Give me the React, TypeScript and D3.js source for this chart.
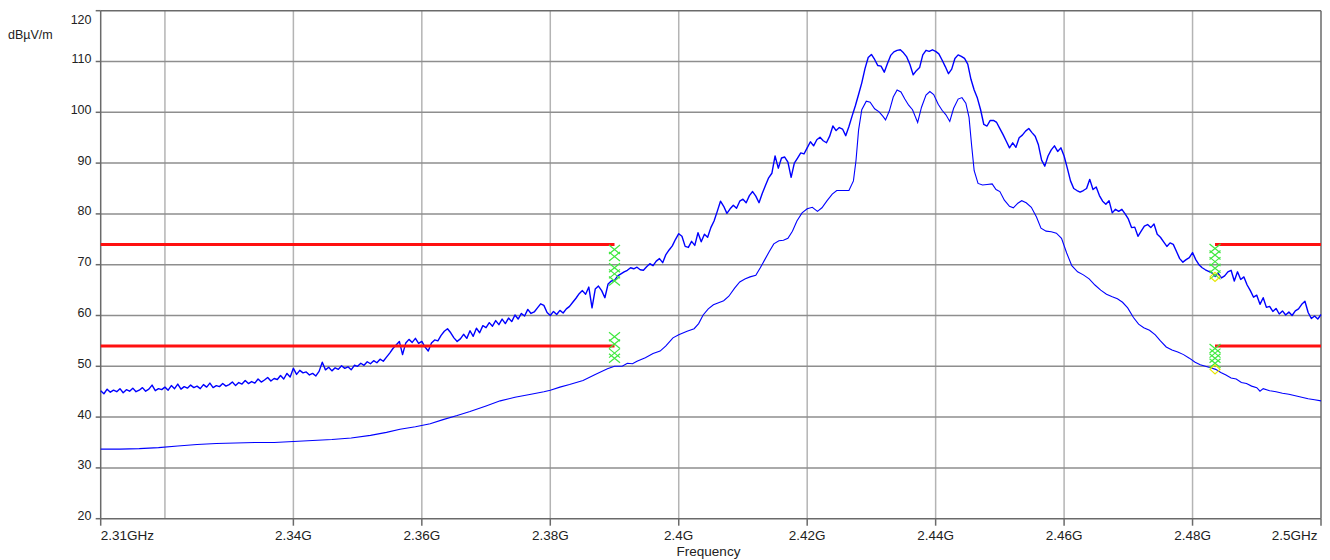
import React from "react";
import * as d3 from "d3";

// Sweep settings for the peak-detector trace (uniform frequency grid, GHz)
const SWEEP_START = 2.31;
const SWEEP_STEP = 0.0005;

// Peak detector trace, dBµV/m, one value per sweep point
const peakLevels = [
  45.2, 44.6, 45.5, 44.9, 45.3, 45.0, 45.6, 44.8, 45.4, 45.1, 45.7, 45.0, 45.3, 45.8, 45.1, 45.5, 46.3, 45.2, 45.6, 45.4,
  45.9, 45.3, 46.2, 45.6, 46.5, 45.5, 46.0, 45.7, 46.3, 45.8, 46.1, 45.6, 46.4, 45.9, 46.7, 45.8, 46.2, 46.0, 46.6, 46.1,
  46.4, 46.9, 46.2, 46.8, 46.5, 47.2, 46.6, 47.0, 46.7, 47.5, 46.9, 47.3, 47.8, 47.1, 47.6, 47.4, 48.2, 47.5, 48.6, 47.9,
  49.6, 48.4, 49.2, 48.7, 48.9, 48.3, 48.6, 48.1, 49.0, 50.8, 49.3, 49.8, 49.1, 49.7, 49.4, 50.1, 49.6, 49.9, 49.3, 50.2,
  50.0, 50.6, 50.2, 50.9, 50.5, 51.1, 50.7, 51.4, 51.0, 51.8, 52.6, 53.5, 54.2, 54.9, 52.3, 54.6, 55.3, 54.7, 55.5, 54.5,
  54.9, 53.8, 53.0, 54.6, 55.2, 55.0, 56.1, 56.9, 57.4, 56.6, 55.6, 54.9, 55.4, 56.3, 55.5, 57.0, 55.9, 57.5, 56.6, 58.0,
  57.6, 58.6, 57.9, 59.0, 58.2, 59.3, 58.4, 59.5, 58.8, 60.1, 59.3, 60.4, 59.9, 61.2, 60.4, 60.7, 61.5, 62.3, 62.0, 60.6,
  60.0, 60.8, 60.2, 61.0, 60.5, 61.3, 61.8, 62.6, 63.4, 64.3, 64.9, 64.2, 65.6, 61.5, 65.2, 65.8, 64.9, 63.5, 66.2, 66.8,
  66.9, 67.8, 68.2, 68.6, 68.9, 69.4, 69.2, 69.5, 69.0, 68.9, 69.6, 70.2, 69.8, 70.7, 71.2, 70.4, 72.0, 72.9, 73.7, 75.0,
  76.1, 75.6, 73.6, 73.4, 74.6, 73.8, 76.3, 74.5, 76.0, 75.4, 77.3, 78.6, 80.5, 82.5, 81.5, 80.1, 81.0, 81.7, 81.1, 82.5,
  82.9, 82.2, 83.6, 84.4, 83.5, 82.2, 84.0, 85.6, 87.1, 88.0, 91.4, 89.0, 91.0, 91.2, 90.2, 87.2, 90.0, 91.0, 92.0, 91.8,
  93.0, 94.2, 93.4, 94.6, 95.1, 94.4, 94.0, 95.3, 97.3, 96.4, 97.0, 96.7, 95.4, 97.2, 99.3, 101.3, 103.5, 105.8, 108.6, 110.8,
  111.4, 110.4, 109.2, 109.1, 107.9, 109.6, 111.2, 111.9, 112.2, 112.3, 111.7, 110.9, 109.4, 107.4, 108.2, 108.8, 111.3, 112.2, 112.0, 112.3,
  112.0, 111.5, 110.3, 109.0, 107.6, 108.5, 110.6, 111.3, 111.0, 110.6, 109.5, 106.5, 104.4, 102.8, 100.5, 97.6, 97.3, 98.4, 98.4, 98.0,
  96.8, 95.6, 94.3, 93.0, 94.0, 93.1, 95.0, 95.5, 96.3, 96.8, 96.0, 95.3, 93.6, 90.6, 89.4, 91.4, 92.6, 93.4, 92.3, 93.0,
  91.4, 89.0, 86.5, 85.0, 84.6, 84.3, 84.6, 85.0, 86.8, 84.8, 85.3, 83.6, 82.5, 81.9, 82.6, 80.2, 80.9, 80.5, 80.9, 80.0,
  79.0, 77.3, 77.4, 75.6, 76.6, 77.6, 77.9, 77.3, 78.0, 76.0, 75.4, 74.5, 73.6, 74.3, 74.0, 72.6, 71.2, 70.5, 71.0, 71.4,
  72.4, 71.0, 70.0, 69.4, 69.0, 68.7, 68.4, 67.7, 68.3, 67.4, 67.8, 68.6, 68.9, 66.8, 68.6, 67.1, 67.6, 66.0, 64.9, 63.6,
  64.0, 62.2, 63.5, 61.6, 61.8, 60.8, 61.4, 60.3, 60.9, 60.1, 60.7, 60.0, 60.9, 61.3, 62.2, 62.8, 60.6, 59.4, 59.9, 59.3,
  60.2,
];

// Average detector trace: frequency (GHz) and level (dBµV/m)
const avgFreqs = [
  2.31, 2.313, 2.316, 2.319, 2.322, 2.325, 2.328, 2.331, 2.334, 2.337,
  2.34, 2.343, 2.346, 2.349, 2.352, 2.3545, 2.3566, 2.359, 2.3613, 2.3633,
  2.3655, 2.3675, 2.37, 2.3722, 2.3745, 2.377, 2.379, 2.38, 2.3815, 2.383,
  2.3851, 2.387, 2.3889, 2.39, 2.3912, 2.392, 2.3928, 2.3935, 2.3948, 2.396,
  2.3971, 2.398, 2.3991, 2.4, 2.4013, 2.4024, 2.4031, 2.4038, 2.4046, 2.4054,
  2.4062, 2.407, 2.4078, 2.4087, 2.4095, 2.4103, 2.4111, 2.412, 2.4127, 2.4134,
  2.4141, 2.4148, 2.4156, 2.4163, 2.417, 2.4177, 2.4184, 2.4192, 2.42, 2.4208,
  2.4216, 2.4223, 2.4231, 2.4239, 2.4246, 2.4255, 2.4265, 2.4272, 2.4276, 2.428,
  2.4285, 2.4292, 2.4298, 2.4305, 2.4312, 2.4318, 2.4322, 2.4328, 2.4334, 2.434,
  2.4346, 2.4352, 2.4358, 2.4364, 2.4372, 2.4378, 2.4385, 2.4391, 2.4397, 2.4404,
  2.441, 2.4416, 2.4422, 2.4428, 2.4435, 2.4441, 2.4447, 2.4452, 2.4456, 2.446,
  2.4466, 2.4473, 2.448, 2.4488, 2.4494, 2.45, 2.4507, 2.4515, 2.4521, 2.4528,
  2.4534, 2.4541, 2.4549, 2.4557, 2.4564, 2.4572, 2.458, 2.4588, 2.4596, 2.4604,
  2.4612, 2.4621, 2.463, 2.4639, 2.4648, 2.4657, 2.4666, 2.4675, 2.4683, 2.4691,
  2.4699, 2.4708, 2.4716, 2.4724, 2.4733, 2.4742, 2.475, 2.4759, 2.4768, 2.4777,
  2.4786, 2.4795, 2.4804, 2.4812, 2.482, 2.4828, 2.4836, 2.4844, 2.4852, 2.486,
  2.4868, 2.4876, 2.4884, 2.4892, 2.49, 2.4905, 2.491, 2.492, 2.493, 2.494,
  2.495, 2.496, 2.497, 2.498, 2.499, 2.5,
];
const avgLevels = [
  33.7, 33.7, 33.8, 34.0, 34.3, 34.6, 34.8, 34.9, 35.0, 35.0,
  35.2, 35.4, 35.6, 35.9, 36.4, 37.0, 37.6, 38.1, 38.7, 39.5,
  40.3, 41.1, 42.2, 43.2, 43.9, 44.5, 45.0, 45.3, 45.9, 46.4,
  47.2, 48.4, 49.5, 50.0, 50.0, 50.6, 50.5, 51.0, 51.7, 52.5,
  53.0, 54.0, 55.6, 56.2, 56.9, 57.4, 58.4, 60.1, 61.3, 62.1,
  62.5, 62.9, 63.8, 65.4, 66.6, 67.2, 67.6, 67.9, 69.4, 71.0,
  72.6, 74.1, 74.7, 74.8, 75.2, 76.6, 78.6, 80.2, 81.0, 81.3,
  80.5, 81.2, 82.6, 83.9, 84.6, 84.6, 84.6, 86.5, 90.5, 96.5,
  100.5, 102.2, 102.0, 100.7, 100.1, 99.2, 98.5, 100.3, 103.0, 104.4,
  104.0, 102.6, 101.4, 100.5, 98.0, 101.0, 103.4, 104.1, 103.5, 101.6,
  100.4, 99.5, 98.2, 100.8, 102.6, 102.9, 101.8, 99.0, 93.5, 88.5,
  86.0, 85.7, 85.8, 85.9, 84.8, 84.4, 82.7, 81.5, 81.2, 82.1,
  82.6, 82.2, 81.3, 79.4, 77.2, 76.6, 76.5, 76.2, 75.2, 72.3,
  69.8, 68.6, 68.0, 67.2, 66.0, 65.0, 64.2, 63.7, 63.3, 62.6,
  61.5, 59.6, 58.3, 57.6, 57.1, 56.2, 55.0, 53.8, 53.2, 52.8,
  52.3, 51.6, 50.8, 50.3, 50.0, 49.7, 49.4, 48.8, 48.3, 47.7,
  47.5, 46.8, 46.6, 46.1, 45.8, 45.1, 45.6, 45.2, 45.0, 44.7,
  44.5, 44.2, 43.9, 43.6, 43.4, 43.2,
];

// Axis ticks
const levelTicks = [20, 30, 40, 50, 60, 70, 80, 90, 100, 110, 120];
const freqTicks = [2.31, 2.34, 2.36, 2.38, 2.4, 2.42, 2.44, 2.46, 2.48, 2.5];
const freqTickLabels = ["2.31GHz", "2.34G", "2.36G", "2.38G", "2.4G", "2.42G", "2.44G", "2.46G", "2.48G", "2.5GHz"];
const freqGrid = [2.32, 2.34, 2.36, 2.38, 2.4, 2.42, 2.44, 2.46, 2.48];

// Restricted-band limits (dBµV/m) and band edges (GHz)
const limitLevels = [74, 54];
const bandEdgeLow = 2.39;
const bandEdgeHigh = 2.4835;

// Band-edge markers
const lowEdgeMarks = [73.0, 71.6, 69.4, 68.2, 66.8, 55.8, 54.4, 52.6, 51.6];
const highEdgeMarks = [73.2, 71.9, 70.6, 69.3, 68.0, 53.5, 52.6, 51.6, 50.6];
const highEdgeDiamonds = [67.6, 49.4];

const FONT = "'Liberation Sans', Arial, Helvetica, sans-serif";

export default function App() {
  const width = 1330;
  const height = 560;
  const left = 100.7;
  const right = 1321;
  const top = 10.7;
  const bottom = 518.7;

  const x = d3.scaleLinear().domain([2.31, 2.5]).range([left, right]);
  const y = d3.scaleLinear().domain([20, 120]).range([bottom, top]);

  const line = d3
    .line<[number, number]>()
    .x((d) => x(d[0]))
    .y((d) => y(d[1]));

  const peakPts: [number, number][] = peakLevels.map((v, i) => [SWEEP_START + i * SWEEP_STEP, v]);
  const avgPts: [number, number][] = avgFreqs.map((f, i) => [f, avgLevels[i]]);

  const cross = (cx: number, cy: number, key: string) => (
    <path
      key={key}
      d={`M${cx - 5.5},${cy - 4.5}L${cx + 5.5},${cy + 4.5}M${cx - 5.5},${cy + 4.5}L${cx + 5.5},${cy - 4.5}`}
      stroke="#3fe83f"
      strokeWidth={1.2}
      fill="none"
    />
  );

  return (
    <svg
      width={width}
      height={height}
      style={{ position: "absolute", left: 0, top: 0, background: "#fff" }}
      fontFamily={FONT}
    >
      <rect x={0} y={0} width={width} height={height} fill="#fff" />

      {/* vertical grid */}
      {freqGrid.map((f) => (
        <line key={`vg${f}`} x1={x(f)} x2={x(f)} y1={top} y2={bottom} stroke="#b4b4b4" strokeWidth={1.5} />
      ))}
      {/* horizontal grid */}
      {levelTicks.slice(1, -1).map((v) => (
        <line key={`hg${v}`} x1={left} x2={right} y1={y(v)} y2={y(v)} stroke="#8e8e8e" strokeWidth={1.5} />
      ))}

      {/* frame */}
      <line x1={left} x2={right} y1={top} y2={top} stroke="#6a6a6a" strokeWidth={1.5} />
      <line x1={right} x2={right} y1={top} y2={bottom} stroke="#6a6a6a" strokeWidth={1.5} />
      <line x1={left} x2={right} y1={bottom} y2={bottom} stroke="#6a6a6a" strokeWidth={1.5} />
      <line x1={left} x2={left} y1={top} y2={bottom} stroke="#6a6a6a" strokeWidth={1.5} />

      {/* level axis ticks and labels */}
      {levelTicks.map((v) => (
        <g key={`yt${v}`}>
          <line x1={left - 5} x2={left} y1={y(v)} y2={y(v)} stroke="#6a6a6a" strokeWidth={1.5} />
          <text x={91.5} y={v === 120 ? 24 : y(v) + 1.5} textAnchor="end" fontSize={12.5} fill="#222">
            {v}
          </text>
        </g>
      ))}
      <text x={8} y={39} fontSize={12.5} fill="#222">
        dBµV/m
      </text>

      {/* frequency axis ticks and labels */}
      {freqTicks.map((f, i) => {
        const last = i === freqTicks.length - 1;
        const first = i === 0;
        return (
          <g key={`xt${f}`}>
            <line x1={x(f)} x2={x(f)} y1={bottom} y2={bottom + 7} stroke="#6a6a6a" strokeWidth={1.5} />
            <text
              x={first ? x(f) : last ? x(f) - 3.5 : x(f)}
              y={540}
              textAnchor={first ? "start" : last ? "end" : "middle"}
              fontSize={13.5}
              fill="#222"
            >
              {freqTickLabels[i]}
            </text>
          </g>
        );
      })}
      <text x={708.5} y={556} textAnchor="middle" fontSize={13.5} fill="#222">
        Frequency
      </text>

      {/* measured traces */}
      <path d={line(avgPts) ?? ""} fill="none" stroke="#0000ff" strokeWidth={1.1} />
      <path d={line(peakPts) ?? ""} fill="none" stroke="#0000ff" strokeWidth={1.4} strokeLinejoin="round" />

      {/* restricted-band limit lines */}
      {limitLevels.map((v) => (
        <g key={`lim${v}`}>
          <line x1={left} x2={x(bandEdgeLow)} y1={y(v)} y2={y(v)} stroke="#ff1010" strokeWidth={3} />
          <line x1={x(bandEdgeHigh)} x2={right} y1={y(v)} y2={y(v)} stroke="#ff1010" strokeWidth={3} />
        </g>
      ))}

      {/* band-edge markers */}
      {lowEdgeMarks.map((v, i) => cross(x(bandEdgeLow), y(v), `lm${i}`))}
      {highEdgeMarks.map((v, i) => cross(x(bandEdgeHigh), y(v), `hm${i}`))}
      {highEdgeDiamonds.map((v, i) => {
        const cx = x(bandEdgeHigh);
        const cy = y(v);
        return (
          <path
            key={`dm${i}`}
            d={`M${cx},${cy - 4.5}L${cx + 5},${cy}L${cx},${cy + 4.5}L${cx - 5},${cy}Z`}
            fill="none"
            stroke="#e6e600"
            strokeWidth={1.2}
          />
        );
      })}
    </svg>
  );
}
